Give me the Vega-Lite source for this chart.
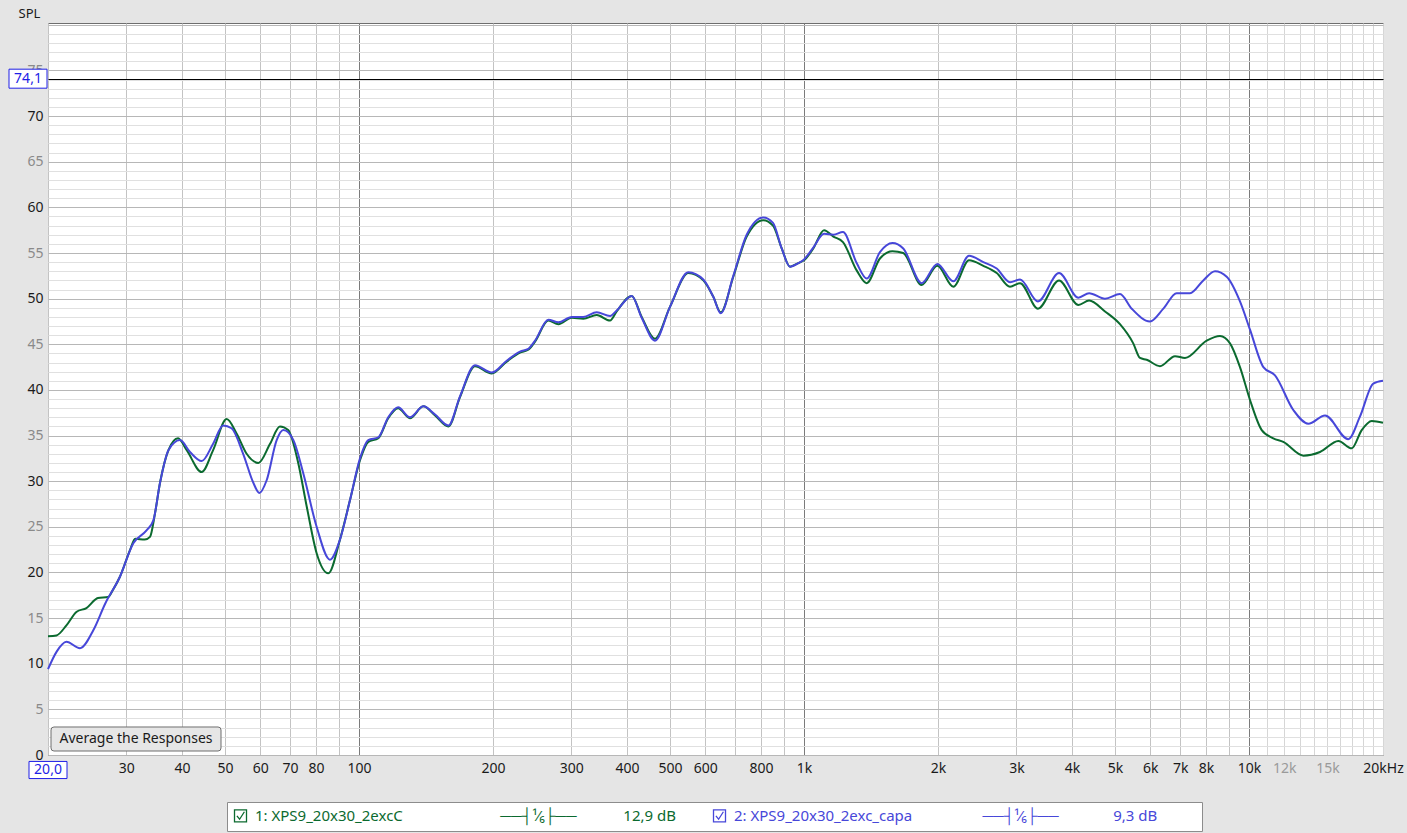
{
  "$schema": "https://vega.github.io/schema/vega-lite/v6.json",
  "width": 1335,
  "height": 732,
  "autosize": {"type": "none"},
  "padding": {"left": 48, "top": 23, "right": 24, "bottom": 78},
  "background": "#e5e5e5",
  "config": {
    "view": {"fill": "white", "stroke": "#6e6e6e", "strokeWidth": 1},
    "font": "Noto Sans",
    "axis": {"domain": false, "ticks": false}
  },
  "datasets": {
    "resp": [
      {"s":"1","f":20,"db":13.0},{"s":"1","f":20.9,"db":13.1},{"s":"1","f":22.0,"db":14.2},{"s":"1","f":23.2,"db":15.7},{"s":"1","f":24.4,"db":16.1},{"s":"1","f":25.9,"db":17.2},{"s":"1","f":27.3,"db":17.3},{"s":"1","f":28.0,"db":18.1},{"s":"1","f":29.0,"db":19.5},{"s":"1","f":30.6,"db":22.5},{"s":"1","f":31.4,"db":23.7},{"s":"1","f":33.0,"db":23.6},{"s":"1","f":33.9,"db":23.9},{"s":"1","f":34.8,"db":26.5},{"s":"1","f":35.7,"db":29.8},{"s":"1","f":37.3,"db":33.4},{"s":"1","f":39.2,"db":34.7},{"s":"1","f":41.0,"db":33.4},{"s":"1","f":44.3,"db":31.0},{"s":"1","f":47.0,"db":33.4},{"s":"1","f":50.4,"db":36.8},{"s":"1","f":53.1,"db":35.2},{"s":"1","f":55.9,"db":33.0},{"s":"1","f":59.4,"db":32.0},{"s":"1","f":63.1,"db":34.1},{"s":"1","f":66.4,"db":36.0},{"s":"1","f":69.3,"db":35.6},{"s":"1","f":73.0,"db":32.0},{"s":"1","f":76.3,"db":27.2},{"s":"1","f":80.3,"db":22.1},{"s":"1","f":85.3,"db":19.9},{"s":"1","f":90.6,"db":23.6},{"s":"1","f":95.4,"db":27.9},{"s":"1","f":100.5,"db":32.3},{"s":"1","f":104.9,"db":34.3},{"s":"1","f":110.5,"db":34.7},{"s":"1","f":116.3,"db":36.9},{"s":"1","f":122.4,"db":38.0},{"s":"1","f":130.1,"db":36.9},{"s":"1","f":139.5,"db":38.2},{"s":"1","f":148.2,"db":37.2},{"s":"1","f":158.8,"db":36.0},{"s":"1","f":168.6,"db":39.2},{"s":"1","f":182.2,"db":42.6},{"s":"1","f":198.7,"db":41.8},{"s":"1","f":214.7,"db":43.1},{"s":"1","f":230.0,"db":44.1},{"s":"1","f":240.1,"db":44.4},{"s":"1","f":248.6,"db":45.3},{"s":"1","f":266.3,"db":47.6},{"s":"1","f":280.5,"db":47.2},{"s":"1","f":300.6,"db":47.9},{"s":"1","f":319.1,"db":47.8},{"s":"1","f":342.1,"db":48.2},{"s":"1","f":366.5,"db":47.6},{"s":"1","f":379.3,"db":48.6},{"s":"1","f":410.0,"db":50.3},{"s":"1","f":431.7,"db":48.0},{"s":"1","f":462.4,"db":45.6},{"s":"1","f":499.7,"db":49.1},{"s":"1","f":549.5,"db":52.8},{"s":"1","f":593.8,"db":52.0},{"s":"1","f":625.3,"db":50.2},{"s":"1","f":649.7,"db":48.5},{"s":"1","f":693.5,"db":52.4},{"s":"1","f":743.2,"db":56.8},{"s":"1","f":809.9,"db":58.6},{"s":"1","f":851.6,"db":58.0},{"s":"1","f":890.9,"db":55.5},{"s":"1","f":930,"db":53.5},{"s":"1","f":970.9,"db":53.9},{"s":"1","f":1000,"db":54.2},{"s":"1","f":1049,"db":55.5},{"s":"1","f":1109,"db":57.5},{"s":"1","f":1164,"db":56.8},{"s":"1","f":1223,"db":56.2},{"s":"1","f":1313,"db":53.1},{"s":"1","f":1383,"db":51.7},{"s":"1","f":1481,"db":54.4},{"s":"1","f":1580,"db":55.2},{"s":"1","f":1671,"db":55.0},{"s":"1","f":1838,"db":51.5},{"s":"1","f":1993,"db":53.6},{"s":"1","f":2165,"db":51.3},{"s":"1","f":2348,"db":54.2},{"s":"1","f":2529,"db":53.6},{"s":"1","f":2710,"db":52.8},{"s":"1","f":2903,"db":51.3},{"s":"1","f":3058,"db":51.7},{"s":"1","f":3355,"db":48.9},{"s":"1","f":3741,"db":52.0},{"s":"1","f":4135,"db":49.3},{"s":"1","f":4371,"db":49.8},{"s":"1","f":4746,"db":48.6},{"s":"1","f":5128,"db":47.2},{"s":"1","f":5493,"db":45.1},{"s":"1","f":5688,"db":43.5},{"s":"1","f":5888,"db":43.3},{"s":"1","f":6308,"db":42.6},{"s":"1","f":6818,"db":43.7},{"s":"1","f":7179,"db":43.5},{"s":"1","f":8032,"db":45.4},{"s":"1","f":8604,"db":45.9},{"s":"1","f":9062,"db":45.1},{"s":"1","f":9542,"db":42.5},{"s":"1","f":10050,"db":38.9},{"s":"1","f":10678,"db":35.6},{"s":"1","f":11338,"db":34.7},{"s":"1","f":11940,"db":34.3},{"s":"1","f":13244,"db":32.8},{"s":"1","f":14438,"db":33.2},{"s":"1","f":15872,"db":34.4},{"s":"1","f":17012,"db":33.6},{"s":"1","f":17913,"db":35.6},{"s":"1","f":18866,"db":36.6},{"s":"1","f":20000,"db":36.4},
      {"s":"2","f":20,"db":9.4},{"s":"2","f":20.9,"db":11.3},{"s":"2","f":22.0,"db":12.4},{"s":"2","f":23.6,"db":11.7},{"s":"2","f":25.3,"db":13.7},{"s":"2","f":26.9,"db":16.6},{"s":"2","f":29.0,"db":19.5},{"s":"2","f":31.1,"db":23.2},{"s":"2","f":33.3,"db":24.6},{"s":"2","f":34.5,"db":25.7},{"s":"2","f":35.7,"db":29.8},{"s":"2","f":37.3,"db":33.4},{"s":"2","f":39.6,"db":34.5},{"s":"2","f":41.7,"db":33.2},{"s":"2","f":44.3,"db":32.2},{"s":"2","f":47.0,"db":34.1},{"s":"2","f":49.5,"db":36.1},{"s":"2","f":51.7,"db":35.8},{"s":"2","f":54.9,"db":33.0},{"s":"2","f":57.9,"db":29.8},{"s":"2","f":59.7,"db":28.7},{"s":"2","f":62.0,"db":30.1},{"s":"2","f":65.3,"db":34.5},{"s":"2","f":67.6,"db":35.6},{"s":"2","f":71.2,"db":34.5},{"s":"2","f":74.9,"db":30.9},{"s":"2","f":80.3,"db":25.0},{"s":"2","f":86.0,"db":21.4},{"s":"2","f":90.6,"db":23.6},{"s":"2","f":95.4,"db":27.9},{"s":"2","f":100.5,"db":32.5},{"s":"2","f":104.9,"db":34.5},{"s":"2","f":110.5,"db":34.8},{"s":"2","f":116.3,"db":37.0},{"s":"2","f":122.4,"db":38.1},{"s":"2","f":130.1,"db":37.0},{"s":"2","f":139.5,"db":38.2},{"s":"2","f":148.2,"db":37.3},{"s":"2","f":158.8,"db":36.1},{"s":"2","f":168.6,"db":39.3},{"s":"2","f":182.2,"db":42.7},{"s":"2","f":198.7,"db":41.9},{"s":"2","f":214.7,"db":43.2},{"s":"2","f":230.0,"db":44.2},{"s":"2","f":240.1,"db":44.5},{"s":"2","f":248.6,"db":45.4},{"s":"2","f":266.3,"db":47.7},{"s":"2","f":280.5,"db":47.4},{"s":"2","f":300.6,"db":48.0},{"s":"2","f":319.1,"db":48.0},{"s":"2","f":342.1,"db":48.5},{"s":"2","f":366.5,"db":48.1},{"s":"2","f":379.3,"db":48.7},{"s":"2","f":410.0,"db":50.3},{"s":"2","f":431.7,"db":47.9},{"s":"2","f":462.4,"db":45.4},{"s":"2","f":499.7,"db":49.1},{"s":"2","f":549.5,"db":52.9},{"s":"2","f":593.8,"db":52.1},{"s":"2","f":625.3,"db":50.2},{"s":"2","f":649.7,"db":48.4},{"s":"2","f":693.5,"db":52.5},{"s":"2","f":743.2,"db":57.0},{"s":"2","f":809.9,"db":58.9},{"s":"2","f":851.6,"db":58.3},{"s":"2","f":890.9,"db":55.5},{"s":"2","f":930,"db":53.5},{"s":"2","f":970.9,"db":53.9},{"s":"2","f":1000,"db":54.3},{"s":"2","f":1049,"db":55.6},{"s":"2","f":1109,"db":57.1},{"s":"2","f":1164,"db":57.0},{"s":"2","f":1223,"db":57.3},{"s":"2","f":1313,"db":53.9},{"s":"2","f":1383,"db":52.2},{"s":"2","f":1481,"db":55.1},{"s":"2","f":1580,"db":56.1},{"s":"2","f":1671,"db":55.5},{"s":"2","f":1838,"db":51.7},{"s":"2","f":1993,"db":53.8},{"s":"2","f":2165,"db":51.9},{"s":"2","f":2348,"db":54.7},{"s":"2","f":2529,"db":54.0},{"s":"2","f":2710,"db":53.3},{"s":"2","f":2903,"db":51.8},{"s":"2","f":3058,"db":52.1},{"s":"2","f":3355,"db":49.7},{"s":"2","f":3741,"db":52.8},{"s":"2","f":4135,"db":50.1},{"s":"2","f":4371,"db":50.6},{"s":"2","f":4746,"db":50.0},{"s":"2","f":5128,"db":50.5},{"s":"2","f":5450,"db":48.9},{"s":"2","f":5990,"db":47.5},{"s":"2","f":6418,"db":48.9},{"s":"2","f":6876,"db":50.6},{"s":"2","f":7368,"db":50.6},{"s":"2","f":7892,"db":52.0},{"s":"2","f":8385,"db":53.0},{"s":"2","f":8908,"db":52.4},{"s":"2","f":9542,"db":49.7},{"s":"2","f":10050,"db":46.6},{"s":"2","f":10770,"db":42.5},{"s":"2","f":11438,"db":41.6},{"s":"2","f":12574,"db":37.8},{"s":"2","f":13590,"db":36.3},{"s":"2","f":14816,"db":37.2},{"s":"2","f":16714,"db":34.6},{"s":"2","f":17758,"db":37.1},{"s":"2","f":19020,"db":40.7},{"s":"2","f":20000,"db":41.0}
    ]
  },
  "encoding": {
    "x": {
      "field": "f", "type": "quantitative",
      "scale": {"type": "log", "domain": [20, 20000], "nice": false},
      "axis": {
        "title": null,
        "values": [20,30,40,50,60,70,80,90,100,200,300,400,500,600,700,800,900,1000,2000,3000,4000,5000,6000,7000,8000,9000,10000,11000,12000,13000,14000,15000,16000,17000,18000,19000,20000],
        "labelExpr": "datum.value == 20 || datum.value == 90 || datum.value == 700 || datum.value == 900 || datum.value == 9000 || (datum.value > 10000 && datum.value != 12000 && datum.value != 15000 && datum.value != 20000) ? '' : datum.value == 20000 ? '20kHz' : datum.value >= 1000 ? (datum.value / 1000) + 'k' : '' + datum.value",
        "labelFont": "Noto Sans", "labelFontSize": 14, "labelPadding": 6,
        "labelColor": {"condition": {"test": "datum.value == 12000 || datum.value == 15000", "value": "#9a9a9a"}, "value": "#1a1a1a"},
        "labelOverlap": false, "labelFlush": false,
        "grid": true,
        "gridColor": {"condition": [{"test": "datum.value == 100 || datum.value == 1000 || datum.value == 10000", "value": "#7b7b7b"}, {"test": "datum.value > 10000", "value": "#d6d6d6"}], "value": "#c3c3c3"},
        "gridWidth": 1
      }
    },
    "y": {
      "field": "db", "type": "quantitative",
      "scale": {"domain": [0, 80.2], "nice": false, "zero": false},
      "axis": {
        "title": "SPL", "titleAngle": 0, "titleX": -30, "titleY": -6, "titleAlign": "left", "titleBaseline": "alphabetic",
        "titleFont": "Noto Sans", "titleFontSize": 13, "titleFontWeight": "normal", "titleColor": "#1a1a1a",
        "values": [0,1,2,3,4,5,6,7,8,9,10,11,12,13,14,15,16,17,18,19,20,21,22,23,24,25,26,27,28,29,30,31,32,33,34,35,36,37,38,39,40,41,42,43,44,45,46,47,48,49,50,51,52,53,54,55,56,57,58,59,60,61,62,63,64,65,66,67,68,69,70,71,72,73,74,74.1,75,76,77,78,79,80],
        "labelExpr": "datum.value % 5 == 0 && datum.value <= 75 ? '' + datum.value : ''",
        "labelFont": "Noto Sans", "labelFontSize": 14, "labelPadding": 5,
        "labelColor": {"condition": {"test": "datum.value % 10 == 0", "value": "#1a1a1a"}, "value": "#8a8a8a"},
        "labelOverlap": false,
        "grid": true,
        "gridColor": {"condition": [{"test": "datum.value == 74.1", "value": "#000000"}, {"test": "datum.value % 5 == 0", "value": "#b7b7b7"}], "value": "#e0e0e0"}
      }
    }
  },
  "layer": [
    {
      "data": {"name": "resp"},
      "mark": {"type": "line", "interpolate": "monotone", "strokeWidth": 2},
      "encoding": {
        "color": {
          "field": "s", "type": "nominal",
          "scale": {"domain": ["1", "2"], "range": ["#0b6a2f", "#4747d9"]},
          "legend": {
            "orient": "none", "legendX": 179, "legendY": 779, "direction": "horizontal", "title": null,
            "fillColor": "white", "strokeColor": "#8c8c8c", "padding": 6,
            "symbolType": "M-1,-1 L1,-1 L1,1 L-1,1 Z M-0.6,0 L-0.15,0.55 L0.65,-0.7",
            "symbolSize": 144, "symbolStrokeWidth": 1.3,
            "labelFont": "Noto Sans", "labelFontSize": 15, "labelLimit": 900, "labelOffset": 7, "columnPadding": 34,
            "labelColor": {"expr": "datum.value == '1' ? '#0b6a2f' : '#4747d9'"},
            "labelExpr": "datum.value == '1' ? '1: XPS9_20x30_2excC\u00a0\u00a0\u00a0\u00a0\u00a0\u00a0\u00a0\u00a0\u00a0\u00a0\u00a0\u00a0\u00a0\u00a0\u00a0\u00a0\u00a0\u00a0\u00a0\u00a0\u00a0\u00a0\u00a0\u00a0\u00a0\u2500\u2500\u2524\u00b9\u2044\u2086\u251c\u2500\u2500\u00a0\u00a0\u00a0\u00a0\u00a0\u00a0\u00a0\u00a0\u00a0\u00a0\u00a0\u00a012,9 dB' : '2: XPS9_20x30_2exc_capa\u00a0\u00a0\u00a0\u00a0\u00a0\u00a0\u00a0\u00a0\u00a0\u00a0\u00a0\u00a0\u00a0\u00a0\u00a0\u00a0\u00a0\u00a0\u2500\u2500\u2524\u00b9\u2044\u2086\u251c\u2500\u2500\u00a0\u00a0\u00a0\u00a0\u00a0\u00a0\u00a0\u00a0\u00a0\u00a0\u00a0\u00a0\u00a0\u00a09,3 dB\u00a0\u00a0\u00a0\u00a0\u00a0\u00a0\u00a0\u2800'"
          }
        }
      }
    },
    {
      "data": {"values": [{"t": "74,1", "db": 74.1, "f": 20}]},
      "mark": {"type": "point", "shape": "M-1,-0.5 L1,-0.5 L1,0.5 L-1,0.5 Z", "size": 1444, "filled": true, "fill": "white", "stroke": "#1f1fe6", "strokeWidth": 1, "opacity": 1, "xOffset": -20}
    },
    {
      "data": {"values": [{"t": "74,1", "db": 74.1, "f": 20}]},
      "mark": {"type": "text", "font": "Noto Sans", "fontSize": 14, "color": "#1f1fe6", "align": "center", "baseline": "middle", "xOffset": -20},
      "encoding": {"text": {"field": "t"}}
    },
    {
      "data": {"values": [{"t": "20,0", "db": 0, "f": 20}]},
      "mark": {"type": "point", "shape": "M-1,-0.45 L1,-0.45 L1,0.45 L-1,0.45 Z", "size": 1444, "filled": true, "fill": "white", "stroke": "#1f1fe6", "strokeWidth": 1, "opacity": 1, "yOffset": 15}
    },
    {
      "data": {"values": [{"t": "20,0", "db": 0, "f": 20}]},
      "mark": {"type": "text", "font": "Noto Sans", "fontSize": 14, "color": "#1f1fe6", "align": "center", "baseline": "middle", "yOffset": 15},
      "encoding": {"text": {"field": "t"}}
    },
    {
      "data": {"values": [{"t": "Average the Responses", "db": 0, "f": 20}]},
      "mark": {"type": "point", "shape": "M-0.965,-0.1412 L0.965,-0.1412 Q1,-0.1412 1,-0.106 L1,0.106 Q1,0.1412 0.965,0.1412 L-0.965,0.1412 Q-1,0.1412 -1,0.106 L-1,-0.106 Q-1,-0.1412 -0.965,-0.1412 Z", "size": 28900, "filled": true, "fill": "#e6e6e6", "stroke": "#6f6f6f", "strokeWidth": 1, "opacity": 1, "xOffset": 88, "yOffset": -16}
    },
    {
      "data": {"values": [{"t": "Average the Responses", "db": 0, "f": 20}]},
      "mark": {"type": "text", "font": "Noto Sans", "fontSize": 14, "color": "#1a1a1a", "align": "center", "baseline": "middle", "xOffset": 88, "yOffset": -16},
      "encoding": {"text": {"field": "t"}}
    }
  ]
}
